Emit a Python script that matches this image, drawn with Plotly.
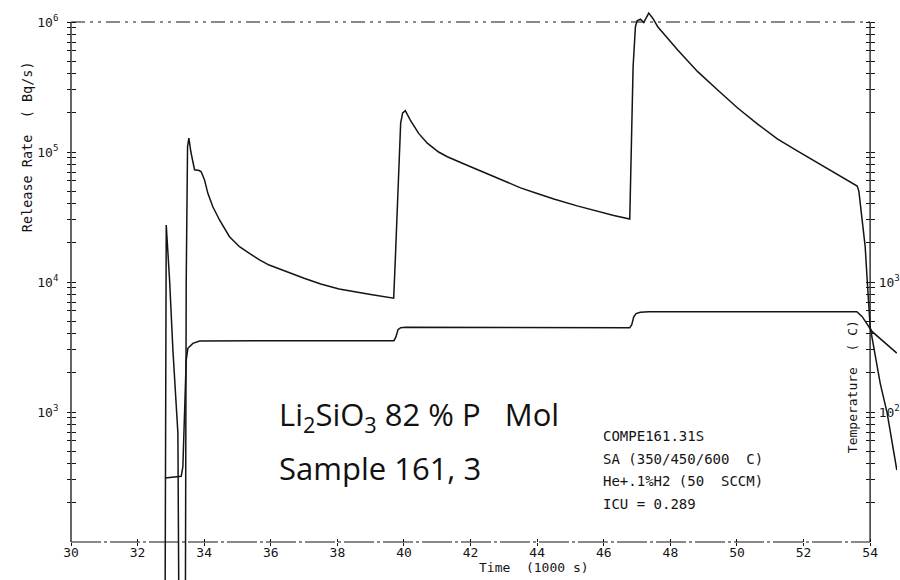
import plotly.graph_objects as go

# ---------------- data ----------------
time_rate = [32.82, 32.86, 32.96, 33.06, 33.21, 33.25, 33.43, 33.46, 33.50, 33.54, 33.60,
             33.71, 33.85, 33.91, 34.01, 34.11, 34.26, 34.46, 34.76, 35.06, 35.36, 35.66,
             35.95, 36.50, 37.00, 37.50, 38.05, 39.00, 39.69, 39.74, 39.82, 39.90, 39.96,
             40.04, 40.19, 40.44, 40.70, 41.04, 41.30, 41.64, 42.00, 42.50, 43.00, 43.50,
             44.00, 44.50, 45.20, 45.83, 46.30, 46.78, 46.83, 46.88, 46.95, 47.00, 47.10,
             47.20, 47.27, 47.35, 47.47, 47.62, 48.22, 48.82, 49.42, 50.02, 50.62, 51.21,
             51.81, 52.71, 53.61, 53.66, 53.85, 53.91, 54.00, 54.30, 54.51, 54.80]
release_rate = [10, 2.74e4, 1.04e4, 3.0e3, 690, 10, 10, 1.0e4, 1.1e5, 1.28e5, 1.0e5,
                7.3e4, 7.2e4, 7.05e4, 6.1e4, 4.81e4, 3.79e4, 3.0e4, 2.23e4, 1.87e4, 1.66e4, 1.48e4,
                1.35e4, 1.19e4, 1.07e4, 9.66e3, 8.84e3, 8.0e3, 7.5e3, 1.5e4, 5.1e4, 1.67e5, 2.0e5,
                2.08e5, 1.76e5, 1.39e5, 1.17e5, 1.0e5, 9.2e4, 8.4e4, 7.7e4, 6.8e4, 6.0e4, 5.3e4,
                4.8e4, 4.35e4, 3.85e4, 3.47e4, 3.25e4, 3.05e4, 1.39e5, 4.5e5, 9.2e5, 1.02e6, 1.05e6,
                9.9e5, 1.07e6, 1.17e6, 1.07e6, 9.2e5, 6.09e5, 4.15e5, 3.0e5, 2.18e5, 1.64e5, 1.26e5,
                1.02e5, 7.5e4, 5.47e4, 5.0e4, 1.87e4, 1.04e4, 4.5e3, 1.67e3, 980, 358]

time_temp = [32.82, 33.31, 33.36, 33.41, 33.46, 33.51, 33.66, 33.86, 39.70, 39.76, 39.82,
             39.90, 40.05, 46.78, 46.84, 46.90, 46.97, 47.10, 47.35, 53.60, 53.76, 54.06, 54.80]
temperature = [31, 32, 38, 92, 251, 309, 337, 352, 354, 380, 430,
               445, 449, 445, 470, 540, 572, 585, 591, 591, 541, 415, 284]

x_ticks = [30, 32, 34, 36, 38, 40, 42, 44, 46, 48, 50, 52, 54]
rate_decades = [2, 3, 4, 5, 6]
rate_labelled = [3, 4, 5, 6]
temp_decades = [1, 2, 3, 4, 5]
temp_labelled = [2, 3]

# ---------------- geometry ----------------
W, H = 900, 580
ML, MT = 71, 8
PW, PH = W - ML, H - MT
X0, X1 = 30.0, 30.0 + PW / 33.42          # 1000 s per 33.42 px
DEC = 130.0                               # px per decade
Y_TOP_LOG = 6 + (22 - MT) / DEC
Y_BOT_LOG = 2 - (H - 542) / DEC
RIGHT_POS = (873 - ML) / PW


def px2x(px):
    return (px - ML) / PW


def py2y(py):
    return (H - py) / PH


AX_BOTTOM_POS = py2y(542)
AX_TOP_POS = py2y(22)


def log_ticks(decades, labelled):
    """Decade + minor ticks; the bottom decade itself sits in the corner and is skipped."""
    vals, texts = [], []
    for i, d in enumerate(decades):
        if i > 0:
            vals.append(10 ** d)
            texts.append("10<sup>%d</sup>" % d if d in labelled else "")
        if i < len(decades) - 1:
            for m in range(2, 10):
                vals.append(m * 10 ** d)
                texts.append("")
    return vals, texts


rate_vals, rate_text = log_ticks(rate_decades, rate_labelled)
temp_vals, temp_text = log_ticks(temp_decades, temp_labelled)

INK = "#141414"
TICKFONT = dict(family="DejaVu Sans Mono", size=13, color=INK)

fig = go.Figure()
fig.add_trace(go.Scatter(x=time_rate, y=release_rate, mode="lines",
                         line=dict(color=INK, width=1.5), xaxis="x", yaxis="y",
                         showlegend=False, hoverinfo="skip"))
fig.add_trace(go.Scatter(x=time_temp, y=temperature, mode="lines",
                         line=dict(color=INK, width=1.5), xaxis="x", yaxis="y2",
                         showlegend=False, hoverinfo="skip"))
# empty helper traces for the overlaid tick-only axes
fig.add_trace(go.Scatter(x=[], y=[], xaxis="x", yaxis="y3", showlegend=False))
fig.add_trace(go.Scatter(x=[], y=[], xaxis="x", yaxis="y4", showlegend=False))
fig.add_trace(go.Scatter(x=[], y=[], xaxis="x2", yaxis="y", showlegend=False))

common_x = dict(range=[X0, X1], anchor="free", position=AX_BOTTOM_POS, showgrid=False,
                zeroline=False, showline=False, tickvals=x_ticks, ticklen=3,
                tickcolor=INK, tickwidth=1)
fig.update_layout(
    width=W, height=H,
    margin=dict(l=ML, r=0, t=MT, b=0),
    paper_bgcolor="white", plot_bgcolor="white",
    xaxis=dict(**common_x, ticks="outside", tickfont=TICKFONT,
               ticktext=[str(v) for v in x_ticks], ticklabelstandoff=-5),
    xaxis2=dict(**common_x, overlaying="x", ticks="inside", showticklabels=False),
    yaxis=dict(type="log", range=[Y_BOT_LOG, Y_TOP_LOG], anchor="free", position=0,
               showgrid=False, zeroline=False, showline=False, ticks="outside", ticklen=4,
               tickcolor=INK, tickvals=rate_vals, ticktext=rate_text, tickfont=TICKFONT,
               ticklabelstandoff=6),
    yaxis3=dict(type="log", range=[Y_BOT_LOG, Y_TOP_LOG], anchor="free", position=0,
                overlaying="y", showgrid=False, zeroline=False, showline=False,
                ticks="inside", ticklen=4, tickcolor=INK, tickvals=rate_vals,
                showticklabels=False),
    yaxis2=dict(type="log", range=[Y_BOT_LOG - 1, Y_TOP_LOG - 1], anchor="free",
                position=RIGHT_POS, overlaying="y", side="right", showgrid=False,
                zeroline=False, showline=False, ticks="outside", ticklen=4, tickcolor=INK,
                tickvals=temp_vals, ticktext=temp_text, tickfont=TICKFONT,
                ticklabelstandoff=1),
    yaxis4=dict(type="log", range=[Y_BOT_LOG - 1, Y_TOP_LOG - 1], anchor="free",
                position=RIGHT_POS, overlaying="y", side="right", showgrid=False,
                zeroline=False, showline=False, ticks="inside", ticklen=4, tickcolor=INK,
                tickvals=temp_vals, showticklabels=False),
)

# frame lines (paper coordinates)
XR = px2x(873)
fig.add_shape(type="line", xref="paper", yref="paper", x0=0, x1=0,
              y0=AX_BOTTOM_POS, y1=AX_TOP_POS, line=dict(color=INK, width=1.3))
fig.add_shape(type="line", xref="paper", yref="paper", x0=XR, x1=XR,
              y0=AX_BOTTOM_POS, y1=AX_TOP_POS, line=dict(color=INK, width=1.3))
fig.add_shape(type="line", xref="paper", yref="paper", x0=0, x1=XR,
              y0=AX_BOTTOM_POS, y1=AX_BOTTOM_POS,
              line=dict(color=INK, width=1.2, dash="30px,3px,3px,3px"))
fig.add_shape(type="line", xref="paper", yref="paper", x0=0, x1=XR,
              y0=AX_TOP_POS, y1=AX_TOP_POS,
              line=dict(color=INK, width=1.2, dash="14px,5px,3px,5px,3px,5px"))

SMALL = dict(family="DejaVu Sans Mono", color=INK)


def note(text, px, py, size, angle=0, xanchor="center", font=None):
    fig.add_annotation(text=text, xref="paper", yref="paper", x=px2x(px), y=py2y(py),
                       xanchor=xanchor, yanchor="middle", textangle=angle,
                       showarrow=False, font=font or dict(size=size, **SMALL))


note("Release Rate  ( Bq/s)", 27, 147, 13.5, angle=-90)
note("Time  (1000 s)", 536, 567, 13)
note("Temperature  ( C)", 855, 387, 13, angle=-90)

info_lines = ["COMPE161.31S", "SA (350/450/600  C)", "He+.1%H2 (50  SCCM)", "ICU = 0.289"]
info_y = [436, 459, 481, 504]
for txt, yy in zip(info_lines, info_y):
    note(txt, 603, yy, 14, xanchor="left")

BIG = dict(family="Open Sans", size=31, color="#111111")
note("Li<sub>2</sub>SiO<sub>3</sub> 82 % P   Mol", 278, 416, 31, xanchor="left", font=BIG)
note("Sample 161, 3", 278, 468, 31, xanchor="left", font=BIG)

fig.write_html("out.html")
